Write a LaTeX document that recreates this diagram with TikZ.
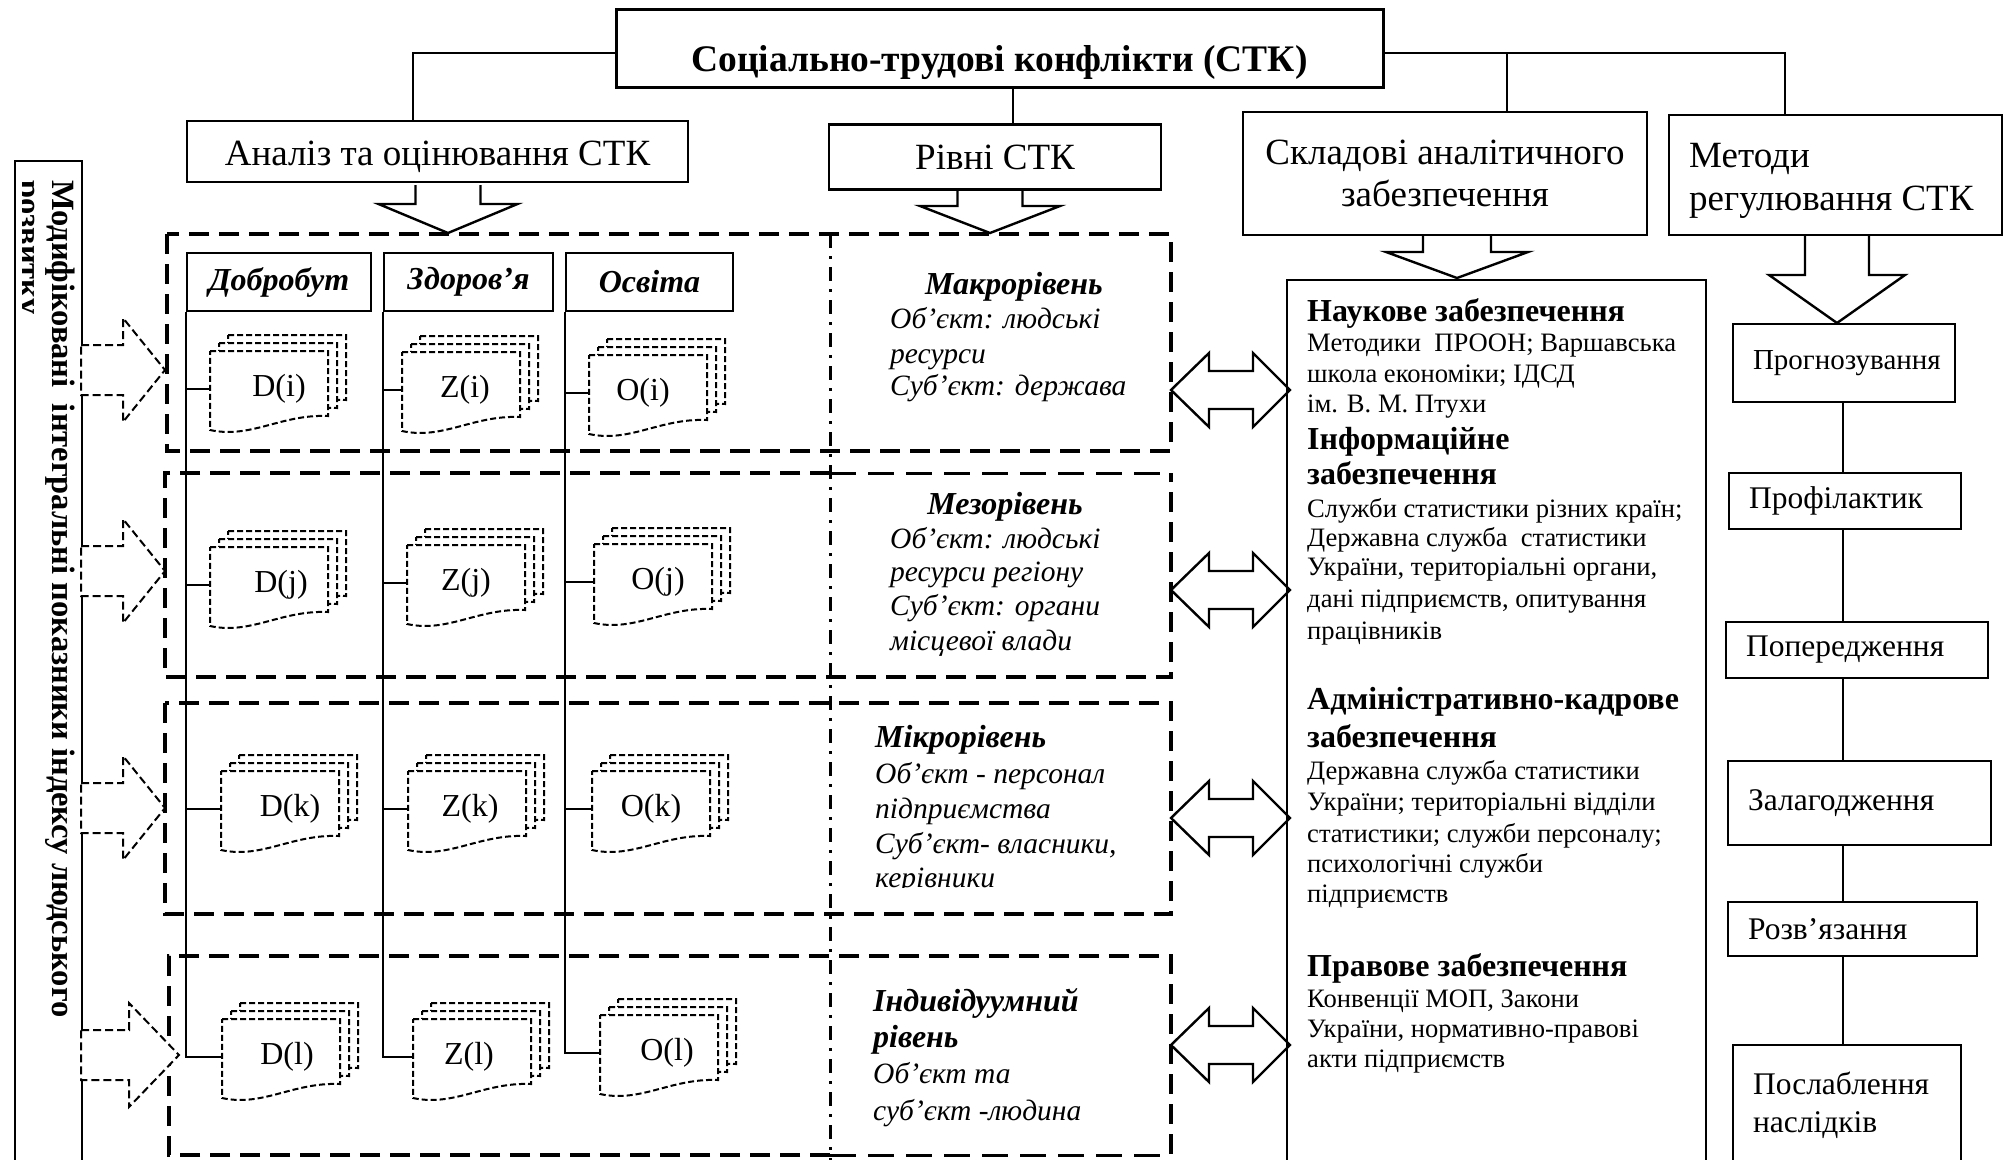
\documentclass[tikz,border=0pt]{standalone}
\usepackage{fontspec}
\setmainfont{Liberation Serif}
\newcommand{\fsz}[2]{\fontsize{#1}{#2}\selectfont}
% #1 name, #2 left, #3 top, #4 label, #5 label x offset
\newcommand{\docstack}[5]{%
  \begin{scope}[shift={(#2,#3)}]
    \foreach \k in {2,1,0}{%
      \draw[docline,fill=white,shift={(9*\k,-8*\k)}] (0,0) -- (118,0) -- (118,65)
        .. controls (71,63) and (41,88) .. (0,79) -- cycle;
    }
    \node[docbox] (#1) at (59,38) {};
    \node[doclabel] (#1t) at ({59+#5},38) {#4};
  \end{scope}%
}
\newcommand{\dblarrow}[1]{%
  \draw[blockarrow] (1171,#1) -- ++(38,-37) -- ++(0,18) -- ++(44,0) -- ++(0,-18)
    -- ++(37,37) -- ++(-37,37) -- ++(0,-18) -- ++(-44,0) -- ++(0,18) -- cycle;}
\newcommand{\sidearrow}[3]{%
  \draw[dasharrow,fill=white] (81,{#3-25}) -- (#1,{#3-25}) -- (#1,{#3-52}) -- (#2,#3)
    -- (#1,{#3+52}) -- (#1,{#3+25}) -- (81,{#3+25}) -- cycle;}
\newcommand{\blockdown}[6]{%
  \draw[blockarrow] ({#1-#5},#2) -- ({#1-#5},#3) -- ({#1-#6},#3) -- (#1,#4)
    -- ({#1+#6},#3) -- ({#1+#5},#3) -- ({#1+#5},#2);}
\begin{document}
\begin{tikzpicture}[x=1pt,y=-1pt,
  box/.style={draw,line width=2.6pt,inner sep=0pt,fill=white},
  conn/.style={line width=1.8pt},
  blockarrow/.style={draw,line width=2.4pt,fill=white,line join=miter},
  grp/.style={line width=4pt,dash pattern=on 20pt off 10pt},
  grpthin/.style={line width=3pt,dash pattern=on 26pt off 12pt},
  dashdot/.style={line width=3pt,dash pattern=on 14pt off 8pt on 3pt off 8pt},
  docline/.style={line width=2pt,dash pattern=on 6pt off 3pt},
  dasharrow/.style={line width=2pt,dash pattern=on 8pt off 4pt},
  docbox/.style={minimum width=118pt,minimum height=76pt,inner sep=0pt},
  doclabel/.style={inner sep=0pt,font=\fsz{32}{36}},
  hdr/.style={draw,line width=2pt,inner sep=0pt,fill=white,minimum height=58pt,font=\bfseries\itshape\fsz{32}{36}},
  lvl/.style={anchor=base west,inner sep=0pt,font=\itshape\fsz{29.5}{33}},
  lvlb/.style={inner sep=0pt,font=\bfseries\itshape\fsz{32}{36}},
  body/.style={anchor=base west,inner sep=0pt,font=\fsz{26.6}{30}},
  head/.style={anchor=base west,inner sep=0pt,font=\bfseries\fsz{32}{35}},
  meth/.style={draw,line width=2pt,inner sep=0pt,inner xsep=20pt,fill=white,align=left,anchor=north west,font=\fsz{31.5}{38}},
  vtext/.style={rotate=-90,anchor=base west,inner sep=0pt,font=\bfseries\fsz{32.5}{36}},
]
\useasboundingbox (0,0) rectangle (2009,1159);
\fill[white] (0,0) rectangle (2009,1159);
\clip (0,0) rectangle (2009,1159);

% ---------- top boxes
\node[box,line width=3pt,minimum width=767pt,minimum height=78pt] (title) at (999.5,48) {};
\node[inner sep=0pt,font=\bfseries\fsz{37.5}{40}] (titlet) at (999.5,63) {Соціально-трудові конфлікти (СТК)};
\node[box,minimum width=501pt,minimum height=61pt] (analiz) at (437.5,151.5) {};
\node[inner sep=0pt,font=\fsz{37}{40}] (analizt) at (437.5,157) {Аналіз та оцінювання СТК};
\node[box,minimum width=332pt,minimum height=65pt,font=\fsz{37}{40}] (rivni) at (995,157) {Рівні СТК};
\node[box,minimum width=404pt,minimum height=123pt,align=center,font=\fsz{37}{42}] (sklad) at (1445,173.5) {Складові аналітичного\\забезпечення};
\node[box,minimum width=333pt,minimum height=120pt] (metody) at (1835.5,175) {};
\node[inner sep=0pt,anchor=west,align=left,font=\fsz{37}{43}] (metodyt) at (1689,181) {Методи\\регулювання СТК};

\coordinate (ta) at (413,53);
\coordinate (tr) at (1013,0);
\coordinate (ts) at (1507,53);
\coordinate (tm) at (1785,53);
\draw[conn] (title.west |- ta) -- (ta) -- (ta |- analiz.north);
\draw[conn] (title.south -| tr) -- (rivni.north -| tr);
\draw[conn] (title.east |- tm) -- (tm) -- (tm |- metody.north);
\draw[conn] (ts) -- (ts |- sklad.north);

\blockdown{448}{185}{204}{233}{32.5}{69.5}
\blockdown{990}{191}{206}{233}{32.5}{70}
\blockdown{1457}{236}{252}{278}{34}{71}
\blockdown{1837}{236}{275}{323}{32}{68}

% ---------- left vertical box
\node[draw,line width=2pt,minimum width=67pt,minimum height=1030pt,anchor=north west,inner sep=0pt] (vbox) at (14,160) {};
\node[vtext] (vt1) at (52,180) {Модифіковані\ \ інтегральні показники індексу людського};
\begin{scope}
  \clip (22,165) rectangle (80,400);
  \node[vtext] (vt2) at (19,180) {розвитку};
\end{scope}

% ---------- group boxes
\draw[grp] (167,234) rectangle (1171,451);
\draw[grp] (830,473) -- (165,473) -- (165,677) -- (1171,677) -- (1171,473);
\draw[grpthin] (830,473) -- (1171,473);
\draw[grp] (165,703) rectangle (1171,914);
\draw[grp] (830,1155) -- (169,1155) -- (169,956) -- (1171,956) -- (1171,1155);
\draw[grpthin] (830,1155) -- (1171,1155);
\draw[dashdot] (830,234) -- (830,1165);

% ---------- side arrows
\sidearrow{123}{165}{370}
\sidearrow{123}{165}{571}
\sidearrow{123}{165}{808}
\sidearrow{129}{179}{1055}

% ---------- headers
\node[hdr,minimum width=184pt] (hD) at (279,282) {Добробут};
\node[hdr,minimum width=169pt] (hZ) at (468.5,282) {Здоров’я};
\node[hdr,minimum width=167pt] (hO) at (649.5,282) {Освіта};

% ---------- documents
\docstack{Di}{210}{351}{D(i)}{10}
\docstack{Zi}{402}{352}{Z(i)}{4}
\docstack{Oi}{589}{355}{O(i)}{-5}
\docstack{Dj}{210}{547}{D(j)}{12}
\docstack{Zj}{407}{545}{Z(j)}{0}
\docstack{Oj}{594}{544}{O(j)}{5}
\docstack{Dk}{221}{771}{D(k)}{10}
\docstack{Zk}{408}{771}{Z(k)}{3}
\docstack{Ok}{592}{771}{O(k)}{0}
\docstack{Dl}{222}{1019}{D(l)}{6}
\docstack{Zl}{413}{1019}{Z(l)}{-3}
\docstack{Ol}{600}{1015}{O(l)}{8}

\draw[conn] (hD.south west) |- (Dl.west);
\draw[conn] (hZ.south west) |- (Zl.west);
\draw[conn] (hO.south west) |- (Ol.west);
\foreach \r in {i,j,k}{
  \draw[conn] (D\r.west) -- (D\r.west -| hD.south west);
  \draw[conn] (Z\r.west) -- (Z\r.west -| hZ.south west);
  \draw[conn] (O\r.west) -- (O\r.west -| hO.south west);
}

% ---------- level texts
\node[lvlb,anchor=base] (l1h) at (1014,294) {Макрорівень};
\node[lvl] (l1a) at (890,328) {Об’єкт: людські};
\node[lvl] (l1b) at (890,363) {ресурси};
\node[lvl] (l1c) at (890,395) {Суб’єкт: держава};

\node[lvlb,anchor=base] (l2h) at (1005,514) {Мезорівень};
\node[lvl] (l2a) at (890,548) {Об’єкт: людські};
\node[lvl] (l2b) at (890,581) {ресурси регіону};
\node[lvl] (l2c) at (890,615) {Суб’єкт: органи};
\node[lvl] (l2d) at (890,650) {місцевої влади};

\node[lvlb,anchor=base west] (l3h) at (875,747) {Мікрорівень};
\node[lvl] (l3a) at (875,783) {Об’єкт - персонал};
\node[lvl] (l3b) at (875,818) {підприємства};
\node[lvl] (l3c) at (875,853) {Суб’єкт- власники,};
\begin{scope}
  \clip (860,855) rectangle (1160,887);
  \node[lvl] (l3d) at (875,887) {керівники};
\end{scope}

\node[lvlb,anchor=base west] (l4h) at (873,1011) {Індивідуумний};
\node[lvlb,anchor=base west] (l4i) at (873,1047) {рівень};
\node[lvl] (l4a) at (873,1083) {Об’єкт та};
\node[lvl] (l4b) at (873,1120) {суб’єкт -людина};

% ---------- double arrows
\dblarrow{390}
\dblarrow{590}
\dblarrow{818}
\dblarrow{1045}

% ---------- support box
\node[draw,line width=2pt,minimum width=419pt,minimum height=920pt,anchor=north west,inner sep=0pt] (sup) at (1286,279) {};
\node[head] (s1) at (1307,321) {Наукове забезпечення};
\node[body] (s2) at (1307,351) {Методики\ \ ПРООН; Варшавська};
\node[body] (s3) at (1307,382) {школа економіки; ІДСД};
\node[body] (s4) at (1307,412) {ім. В. М. Птухи};
\node[head] (s5) at (1307,449) {Інформаційне};
\node[head] (s6) at (1307,484) {забезпечення};
\node[body] (s7) at (1307,517) {Служби статистики різних країн;};
\node[body] (s8) at (1307,546) {Державна служба\ \ статистики};
\node[body] (s9) at (1307,575) {України, територіальні органи,};
\node[body] (s10) at (1307,607) {дані підприємств, опитування};
\node[body] (s11) at (1307,639) {працівників};
\node[head] (s12) at (1307,709) {Адміністративно-кадрове};
\node[head] (s13) at (1307,747) {забезпечення};
\node[body] (s14) at (1307,779) {Державна служба статистики};
\node[body] (s15) at (1307,810) {України; територіальні відділи};
\node[body] (s16) at (1307,842) {статистики; служби персоналу;};
\node[body] (s17) at (1307,872) {психологічні служби};
\node[body] (s18) at (1307,902) {підприємств};
\node[head] (s19) at (1307,976) {Правове забезпечення};
\node[body] (s20) at (1307,1007) {Конвенції МОП, Закони};
\node[body] (s21) at (1307,1037) {України, нормативно-правові};
\node[body] (s22) at (1307,1067) {акти підприємств};

% ---------- methods column
\node[meth,text width=182pt,minimum height=78pt,font=\fsz{29}{36}] (prog) at (1732,323) {Прогнозування};
\node[meth,text width=192pt,minimum height=56pt] (prof) at (1728,472) {Профілактик};
\node[meth,text width=222pt,minimum height=56pt] (pop) at (1725,621) {Попередження};
\node[meth,text width=223pt,minimum height=84pt] (zal) at (1727,760) {Залагодження};
\node[meth,text width=209pt,minimum height=54pt] (roz) at (1727,901) {Розв’язання};
\node[meth,text width=188pt,minimum height=120pt] (pos) at (1732,1044) {Послаблення\\наслідків};
\coordinate (rl) at (1843,0);
\draw[conn] (rl |- prog.south) -- (rl |- prof.north);
\draw[conn] (rl |- prof.south) -- (rl |- pop.north);
\draw[conn] (rl |- pop.south) -- (rl |- zal.north);
\draw[conn] (rl |- zal.south) -- (rl |- roz.north);
\draw[conn] (rl |- roz.south) -- (rl |- pos.north);
\end{tikzpicture}
\end{document}
